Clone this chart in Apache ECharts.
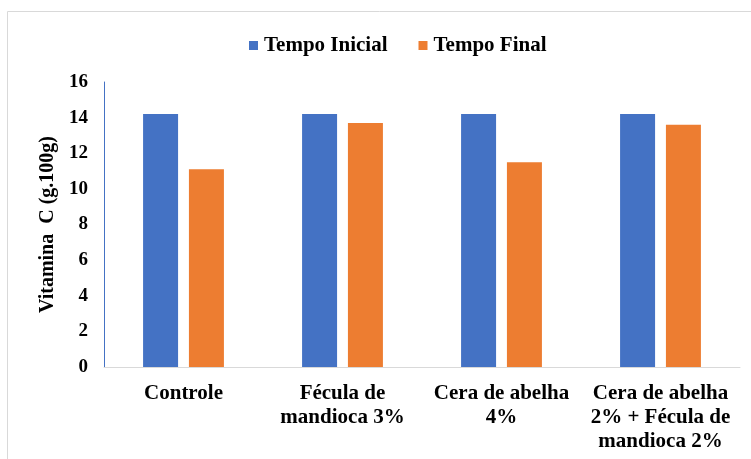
<!DOCTYPE html>
<html>
<head>
<meta charset="utf-8">
<script src="https://cdn.jsdelivr.net/npm/echarts@6/dist/echarts.min.js"></script>
<style>
  html, body { margin: 0; padding: 0; background: #fff; }
  #chart { width: 751px; height: 459px; }
</style>
</head>
<body>
<div id="chart"></div>
<script>
// dados
var categorias = ["Controle", "Fécula de\nmandioca 3%", "Cera de abelha\n4%", "Cera de abelha\n2% + Fécula de\nmandioca 2%"];
var tempoInicial = [14.2, 14.2, 14.2, 14.2];
var tempoFinal = [11.1, 13.7, 11.5, 13.6];
var nomesSeries = ["Tempo Inicial", "Tempo Final"];
var nomeEixoY = "Vitamina  C (g.100g)";

var fonte = "'Liberation Serif', 'Times New Roman', serif";

var chart = echarts.init(document.getElementById("chart"));

var option = {
	animation: false,
	graphic: [{
		type: "rect",
		shape: { x: 7.5, y: 11.5, width: 800, height: 500 },
		style: { fill: "none", stroke: "#d9d9d9", lineWidth: 1 },
		silent: true
	}],
	legend: {
		data: nomesSeries,
		top: 30,
		left: 244,
		itemWidth: 9,
		itemHeight: 9,
		itemGap: 31,
		icon: "rect",
		textStyle: { fontFamily: fonte, fontWeight: "bold", fontSize: 21, color: "#000", padding: [0, 0, 0, 1] }
	},
	grid: { left: 104, right: 11, top: 82, bottom: 92, containLabel: false },
	xAxis: {
		type: "category",
		data: categorias,
		axisLine: { lineStyle: { color: "#d9d9d9", width: 1 } },
		axisTick: { show: false },
		axisLabel: {
			interval: 0,
			margin: 15,
			fontFamily: fonte, fontWeight: "bold", fontSize: 21, color: "#000",
			lineHeight: 24, align: "center"
		}
	},
	yAxis: {
		type: "value",
		min: 0, max: 16, interval: 2,
		name: nomeEixoY,
		nameLocation: "middle",
		nameGap: 44,
		nameTextStyle: { fontFamily: fonte, fontWeight: "bold", fontSize: 20, color: "#000" },
		axisLine: { show: true, lineStyle: { color: "#4472c4", width: 1 } },
		axisTick: { show: false },
		splitLine: { show: false },
		axisLabel: { margin: 16, fontFamily: fonte, fontWeight: "bold", fontSize: 19, color: "#000" }
	},
	series: [
		{
			name: nomesSeries[0], type: "bar", data: tempoInicial,
			barWidth: 35, barGap: "31%",
			itemStyle: { color: "#4472c4" }
		},
		{
			name: nomesSeries[1], type: "bar", data: tempoFinal,
			barWidth: 35,
			itemStyle: { color: "#ed7d31" }
		}
	]
};

chart.setOption(option);
</script>
</body>
</html>
